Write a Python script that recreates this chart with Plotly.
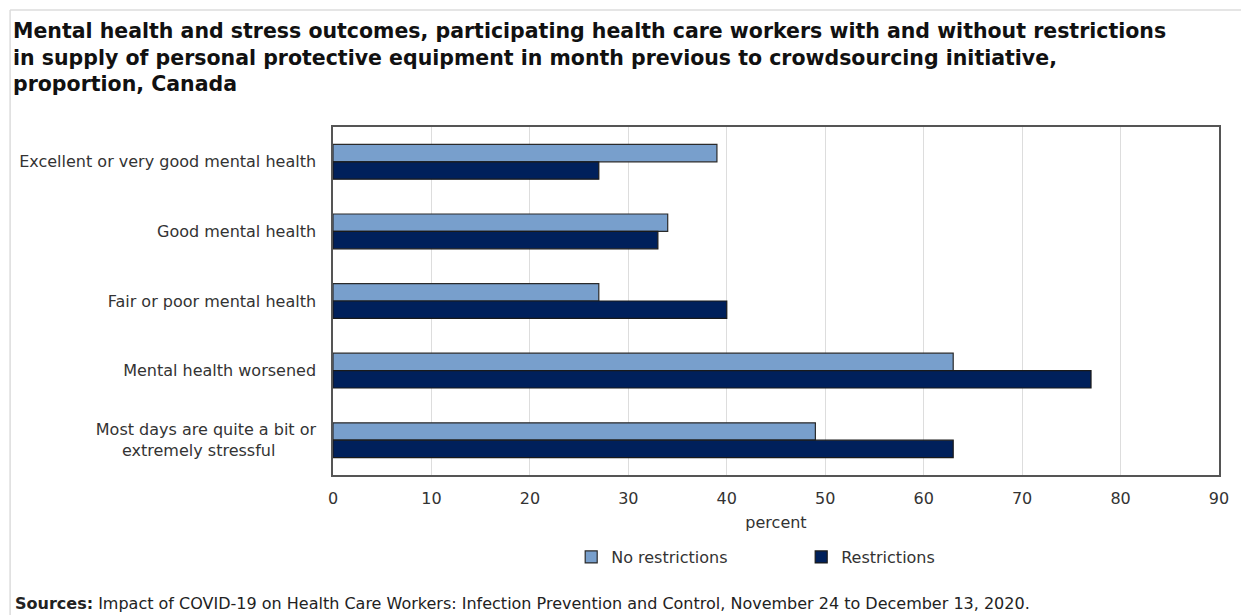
import plotly.graph_objects as go

categories = [
    "Excellent or very good mental health",
    "Good mental health",
    "Fair or poor mental health",
    "Mental health worsened",
    "Most days are quite a bit or<br>extremely stressful\u00a0\u00a0\u00a0\u00a0\u00a0\u00a0\u00a0\u00a0",
]
no_restrictions = [39, 34, 27, 63, 49]
restrictions = [27, 33, 40, 77, 63]
x_ticks = [0, 10, 20, 30, 40, 50, 60, 70, 80, 90]

W, H = 1241, 615
L, R, T, B = 333, 19, 127, 140
PW, PH = W - L - R, H - T - B


def px(xp):
    return (xp - L) / PW


def py(yp):
    return (H - B - yp) / PH


FONT = "DejaVu Sans"
FS = 16

fig = go.Figure()
fig.add_trace(go.Bar(
    y=categories, x=no_restrictions, orientation="h", name="No restrictions",
    marker=dict(color="#789fcc", line=dict(color="#2a2a2a", width=1.2)),
))
fig.add_trace(go.Bar(
    y=categories, x=restrictions, orientation="h", name="Restrictions",
    marker=dict(color="#00205b", line=dict(color="#1a1a1a", width=1.2)),
))

fig.update_layout(
    width=W, height=H,
    margin=dict(l=L, r=R, t=T, b=B),
    paper_bgcolor="white", plot_bgcolor="white",
    barmode="group", bargap=0.5, bargroupgap=0,
    font=dict(family=FONT, size=FS, color="#333333"),
    title=dict(
        text="<b>Mental health and stress outcomes, participating health care workers with and without restrictions<br>"
             "in supply of personal protective equipment in month previous to crowdsourcing initiative,<br>"
             "proportion, Canada</b>",
        xref="container", yref="container", x=13 / W, xanchor="left",
        y=1 - 38 / H, yanchor="top",
        font=dict(family=FONT, size=20.5, color="#111111"),
    ),
    xaxis=dict(
        range=[0, 90], tickvals=x_ticks, showgrid=True, gridcolor="#dddddd", gridwidth=1,
        showline=True, mirror=True, linecolor="#555555", linewidth=1.5,
        ticks="", ticklabelstandoff=8, zeroline=False,
        title=dict(text="percent", standoff=10, font=dict(size=FS)),
        tickfont=dict(size=FS),
    ),
    yaxis=dict(
        autorange="reversed", showline=True, mirror=True, linecolor="#555555", linewidth=1.5,
        ticks="", ticklabelstandoff=12, tickfont=dict(size=FS), showgrid=False,
    ),
    legend=dict(
        orientation="h", x=px(572), xanchor="left", y=py(557), yanchor="middle",
        font=dict(size=FS), itemwidth=30, entrywidth=185, traceorder="normal",
    ),
    showlegend=True,
)

fig.add_annotation(
    text="<b>Sources:</b> Impact of COVID-19 on Health Care Workers: Infection Prevention and Control, November 24 to December 13, 2020.",
    xref="paper", yref="paper", x=px(12), y=py(603), xanchor="left", yanchor="middle",
    showarrow=False, font=dict(size=FS, color="#222222"),
)

# light outer frame (top and left edges)
fig.add_shape(type="line", xref="paper", yref="paper", x0=px(9), x1=px(W + 5), y0=py(10), y1=py(10),
              line=dict(color="#dcdcdc", width=1.5))
fig.add_shape(type="line", xref="paper", yref="paper", x0=px(9), x1=px(9), y0=py(10), y1=py(H + 5),
              line=dict(color="#dcdcdc", width=1.5))

fig.write_html("out.html")
